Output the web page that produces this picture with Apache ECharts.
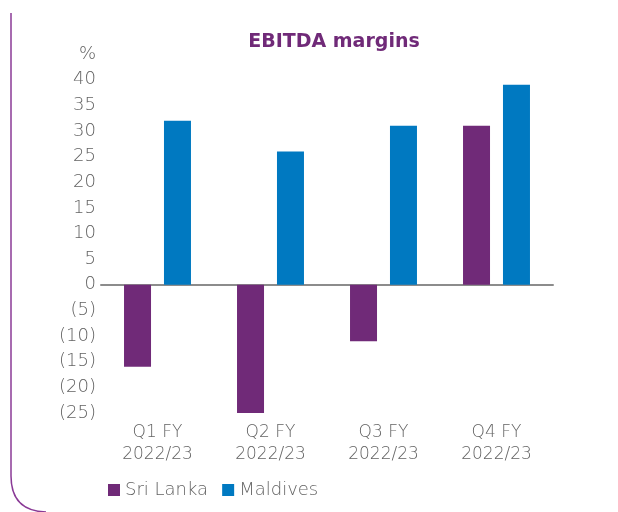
<!DOCTYPE html>
<html>
<head>
<meta charset="utf-8">
<script src="https://cdn.jsdelivr.net/npm/echarts@6/dist/echarts.min.js"></script>
<style>
  html,body{margin:0;padding:0;background:#fff;}
  #chart{width:618px;height:512px;}
</style>
</head>
<body>
<div id="chart"></div>
<script>
// ---- data ----
const quarters = ['Q1 FY\n2022/23','Q2 FY\n2022/23','Q3 FY\n2022/23','Q4 FY\n2022/23'];
const sriLanka = [-16, -25, -11, 31];
const maldives = [32, 26, 31, 39];
const yMin = -25, yMax = 45, yStep = 5;

const C = { purple:'#702a78', blue:'#0079c1', txt:'#636363', axis:'#8c8c8c' };
const font = '"DejaVu Sans", "Open Sans", sans-serif';
const frame = { fill:'none', stroke:'#8a3a96', lineWidth:1.5 };

const c = echarts.init(document.getElementById('chart'));
c.setOption({
  animation:false,
  title:{ text:'EBITDA margins', left:329, top:28, textAlign:'center',
    textStyle:{ color:C.purple, fontSize:19, fontWeight:'bold', fontFamily:font } },
  legend:{ left:103, top:476, itemWidth:12, itemHeight:12, itemGap:14, icon:'rect',
    textStyle:{ color:C.txt, fontSize:18, fontFamily:font, fontWeight:200 },
    data:['Sri Lanka','Maldives'] },
  grid:{ left:101, right:65, top:54, bottom:99, containLabel:false },
  xAxis:{ type:'category', data:quarters,
    axisLine:{ onZero:true, lineStyle:{ color:C.axis, width:2 } },
    axisTick:{ show:false },
    axisLabel:{ color:C.txt, fontSize:17, lineHeight:22, fontFamily:font, fontWeight:200, margin:9 },
  },
  yAxis:{ type:'value', min:yMin, max:yMax, interval:yStep,
    axisLine:{ show:false }, axisTick:{ show:false }, splitLine:{ show:false },
    axisLabel:{ color:C.txt, fontSize:18, fontFamily:font, fontWeight:200, margin:5,
      formatter:v => v === yMax ? '%' : (v < 0 ? '(' + (-v) + ')' : String(v)) } },
  series:[
    { name:'Sri Lanka', type:'bar', data:sriLanka, barWidth:27, barGap:'48%', itemStyle:{ color:C.purple } },
    { name:'Maldives', type:'bar', data:maldives, barWidth:27, itemStyle:{ color:C.blue } },
  ],
  graphic:[
    { type:'line', silent:true, shape:{ x1:11, y1:13, x2:11, y2:476 }, style:frame },
    { type:'bezierCurve', silent:true, shape:{ x1:11, y1:476, cpx1:11, cpy1:511, x2:46, y2:512 }, style:frame }
  ]
});
</script>
</body>
</html>
